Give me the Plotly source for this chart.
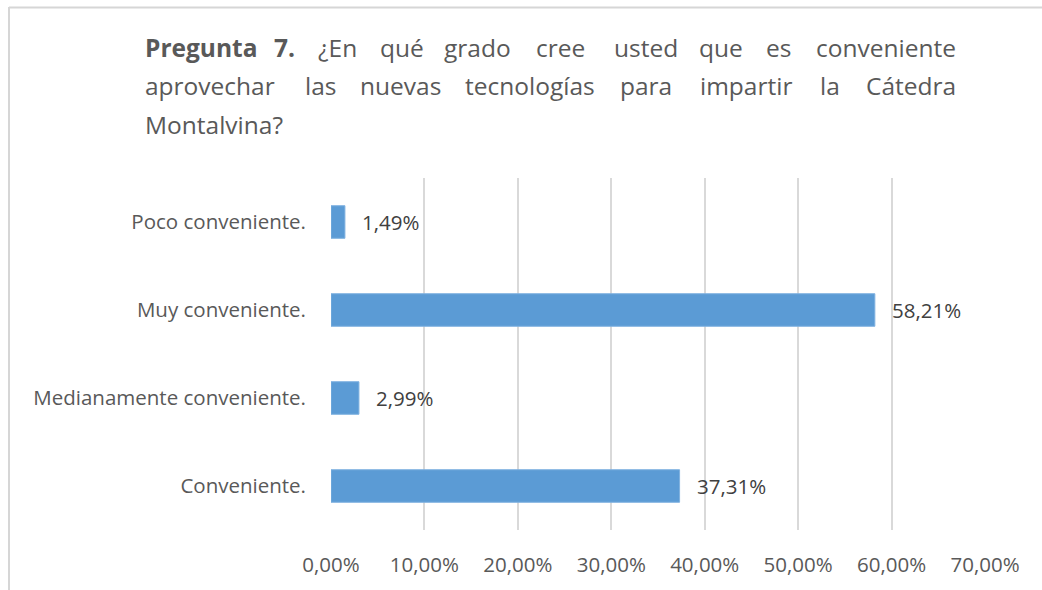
import plotly.graph_objects as go

categories = ["Conveniente.", "Medianamente conveniente.", "Muy conveniente.", "Poco conveniente."]
values = [0.3731, 0.0299, 0.5821, 0.0149]
tick_vals = [0, 0.1, 0.2, 0.3, 0.4, 0.5, 0.6, 0.7]

W, H = 1042, 590
L, R, T, B = 331, 985, 178, 530

def px(x):
    return (x - L) / (R - L)

def py(y):
    return (B - y) / (B - T)

FONT = "Open Sans"
TXT = "#595959"

fig = go.Figure()
fig.add_trace(go.Bar(
    y=categories, x=values, orientation="h",
    marker=dict(color="#5B9BD5", line=dict(color="#7FB1E0", width=1)),
    width=0.37, hoverinfo="skip",
))

annotations = []
for c, v in zip(categories, values):
    annotations.append(dict(
        x=v, y=c, xref="x", yref="y", text=f"{v*100:.2f}%".replace(".", ","),
        showarrow=False, xanchor="left", xshift=15,
        font=dict(family=FONT, size=20.5, color="#404040"),
    ))

TS = 24.5
line1 = [("<b>Pregunta</b>", 143), ("<b>7.</b>", 272), ("¿En", 316), ("qué", 378), ("grado", 442),
         ("cree", 534), ("usted", 612), ("que", 697), ("es", 764)]
line2 = [("aprovechar", 143), ("las", 303), ("nuevas", 358), ("tecnologías", 463), ("para", 618),
         ("impartir", 698), ("la", 818)]
for words, yy, last in [(line1, 48, "conveniente"), (line2, 86, "Cátedra")]:
    for w, x in words:
        annotations.append(dict(x=px(x), y=py(yy), xref="paper", yref="paper", text=w,
                                showarrow=False, xanchor="left", yanchor="middle",
                                font=dict(family=FONT, size=TS, color=TXT)))
    annotations.append(dict(x=px(958), y=py(yy), xref="paper", yref="paper", text=last,
                            showarrow=False, xanchor="right", yanchor="middle",
                            font=dict(family=FONT, size=TS, color=TXT)))
annotations.append(dict(x=px(143), y=py(124), xref="paper", yref="paper", text="Montalvina?",
                        showarrow=False, xanchor="left", yanchor="middle",
                        font=dict(family=FONT, size=TS, color=TXT)))

shapes = [
    dict(type="line", xref="paper", yref="paper", x0=px(9), x1=px(9), y0=py(7), y1=py(600),
         line=dict(color="#D6D6D6", width=2)),
    dict(type="line", xref="paper", yref="paper", x0=px(9), x1=px(1042), y0=py(7.5), y1=py(7.5),
         line=dict(color="#D6D6D6", width=2), layer="above"),
]

fig.update_layout(
    width=W, height=H,
    margin=dict(l=L, r=W - R, t=T, b=H - B, pad=0),
    paper_bgcolor="white", plot_bgcolor="white",
    separators=",.",
    showlegend=False,
    annotations=annotations,
    shapes=shapes,
    xaxis=dict(range=[0, 0.7], tickvals=tick_vals, tickformat=".2%",
               showgrid=True, gridcolor="#D9D9D9", gridwidth=2,
               zeroline=False, showline=False, ticks="",
               tickfont=dict(family=FONT, size=20.5, color=TXT), ticklabelstandoff=20),
    yaxis=dict(categoryorder="array", categoryarray=categories, range=[-0.5, 3.5],
               showgrid=False, zeroline=False, showline=False, ticks="",
               tickfont=dict(family=FONT, size=20.5, color=TXT), ticklabelstandoff=24),
)

fig.write_html("out.html", config={"displayModeBar": False},
               post_script="document.body.style.margin='0';document.body.style.padding='0';")
